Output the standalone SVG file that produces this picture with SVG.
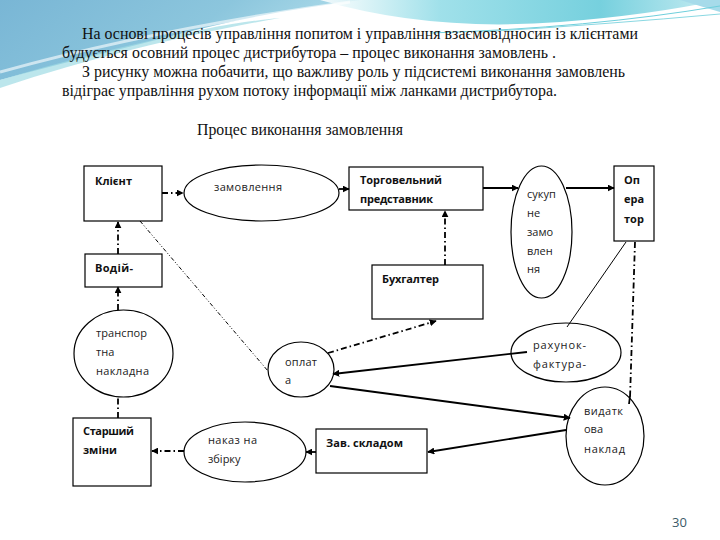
<svg xmlns="http://www.w3.org/2000/svg" width="720" height="540" viewBox="0 0 720 540">
<defs>
<linearGradient id="gBlue" x1="0" y1="0" x2="1" y2="0.3">
<stop offset="0" stop-color="#79b6d5"/>
<stop offset="0.6" stop-color="#8cc6dd"/>
<stop offset="1" stop-color="#b3dfec"/>
</linearGradient>
<linearGradient id="gCyan" x1="0" y1="0" x2="1" y2="0">
<stop offset="0" stop-color="#ffffff"/>
<stop offset="0.3" stop-color="#8fdbe6"/>
<stop offset="0.7" stop-color="#5ec8d8"/>
<stop offset="1" stop-color="#bfe9f0"/>
</linearGradient>
<marker id="ah" viewBox="0 0 10 10" refX="9" refY="5" markerWidth="7" markerHeight="7" markerUnits="userSpaceOnUse" orient="auto">
<path d="M0,0 L10,5 L0,10 Z" fill="#000"/>
</marker>
<style>
.box{fill:#fff;stroke:#000;stroke-width:1.2}
.ell{fill:#fff;stroke:#000;stroke-width:1.2}
.bl{font-family:"Open Sans","Liberation Sans",sans-serif;font-size:11px;font-weight:bold;fill:#111}
.rl{font-family:"Open Sans","Liberation Sans",sans-serif;font-size:11px;fill:#222}
.hd{font-family:"Liberation Serif","Times New Roman",serif;font-size:16px;fill:#111}
.sol{fill:none;stroke:#000;stroke-width:1.8}
.dd{fill:none;stroke:#000;stroke-width:1.8;stroke-dasharray:6 3 1.5 3}
.thin{fill:none;stroke:#000;stroke-width:1}
.thdd{fill:none;stroke:#000;stroke-width:1;stroke-dasharray:4 2 1 2 1 2}
</style>
</defs>
<rect width="720" height="540" fill="#fff"/>
<g id="background">
<path d="M0,0 H360 C 300,8 240,18 180,34 C 110,52 50,66 0,80 Z" fill="url(#gBlue)"/>
<path d="M0,80 C 60,62 130,44 200,30 C 240,22 260,20 280,18 C 200,32 100,55 0,88 Z" fill="#9fdbe4" opacity="0.7"/>
<path d="M320,0 Q 430,32 560,22 Q 650,15 720,0 Z" fill="url(#gCyan)" opacity="0.85"/>
<path d="M680,0 H720 V12 Q 700,6 680,0 Z" fill="#a6dbea"/>
<path d="M430,33 Q 590,28 720,6" fill="none" stroke="#6fcfdc" stroke-width="1"/>
<path d="M480,32 Q 610,24 720,14" fill="none" stroke="#8ad8e2" stroke-width="1"/>
<path d="M0,72 Q 160,28 350,2" fill="none" stroke="#ffffff" stroke-width="3" opacity="0.6"/>
</g>
<g id="header">
<text class="hd" x="82" y="39" textLength="556" lengthAdjust="spacingAndGlyphs">На основі процесів управління попитом і управління взаємовідносин із клієнтами</text>
<text class="hd" x="62" y="58" textLength="494" lengthAdjust="spacingAndGlyphs">будується осовний процес дистрибутора – процес виконання замовлень .</text>
<text class="hd" x="82" y="77" textLength="543" lengthAdjust="spacingAndGlyphs">З рисунку можна побачити, що важливу роль у підсистемі виконання замовлень</text>
<text class="hd" x="62" y="96" textLength="495" lengthAdjust="spacingAndGlyphs">відіграє управління рухом потоку інформації між ланками дистрибутора.</text>
<text class="hd" x="197" y="135" textLength="206" lengthAdjust="spacingAndGlyphs">Процес виконання замовлення</text>
</g>
<g id="n-klient">
<rect class="box" x="84" y="166" width="78" height="55"/>
<text class="bl" x="95" y="185" textLength="37">Клієнт</text>
</g>
<g id="n-zamovlennia">
<ellipse class="ell" cx="261.5" cy="193" rx="77.5" ry="28"/>
<text class="rl" x="214" y="191" textLength="68">замовлення</text>
</g>
<g id="n-torg">
<rect class="box" x="349" y="167" width="134" height="43"/>
<text class="bl" x="360" y="184" textLength="82">Торговельний</text>
<text class="bl" x="360" y="203" textLength="73">представник</text>
</g>
<g id="n-sukupne">
<ellipse class="ell" cx="541.5" cy="232" rx="30.5" ry="66"/>
<text class="rl" x="527" y="198">сукуп</text>
<text class="rl" x="527" y="217">не</text>
<text class="rl" x="527" y="236">замо</text>
<text class="rl" x="527" y="255">влен</text>
<text class="rl" x="527" y="273">ня</text>
</g>
<g id="n-operator">
<rect class="box" x="614" y="166" width="40" height="75"/>
<text class="bl" x="624" y="184">Оп</text>
<text class="bl" x="624" y="203">ера</text>
<text class="bl" x="624" y="223">тор</text>
</g>
<g id="n-buhgalter">
<rect class="box" x="372" y="265" width="111" height="54"/>
<text class="bl" x="382" y="283" textLength="57">Бухгалтер</text>
</g>
<g id="n-vodii">
<rect class="box" x="85" y="254" width="77" height="33"/>
<text class="bl" x="95" y="272" textLength="38">Водій-</text>
</g>
<g id="n-transport">
<ellipse class="ell" cx="123.5" cy="353.5" rx="49.5" ry="43.5"/>
<text class="rl" x="96" y="337" textLength="51">транспор</text>
<text class="rl" x="96" y="356">тна</text>
<text class="rl" x="96" y="375" textLength="53">накладна</text>
</g>
<g id="n-oplata">
<ellipse class="ell" cx="301" cy="369.5" rx="33" ry="27.5"/>
<text class="rl" x="285" y="366" textLength="32">оплат</text>
<text class="rl" x="285" y="384">а</text>
</g>
<g id="n-starshyi">
<rect class="box" x="73" y="418" width="78" height="68"/>
<text class="bl" x="83" y="435" textLength="51">Старший</text>
<text class="bl" x="83" y="454">зміни</text>
</g>
<g id="n-nakaz">
<ellipse class="ell" cx="245" cy="452" rx="61" ry="30"/>
<text class="rl" x="208" y="444" textLength="49">наказ на</text>
<text class="rl" x="208" y="463">збірку</text>
</g>
<g id="n-zav">
<rect class="box" x="316" y="429" width="111" height="44"/>
<text class="bl" x="326" y="447" textLength="77">Зав. складом</text>
</g>
<g id="n-rahunok">
<ellipse class="ell" cx="566" cy="352.5" rx="55" ry="29.5"/>
<text class="rl" x="533" y="349" textLength="53">рахунок-</text>
<text class="rl" x="533" y="368" textLength="53">фактура-</text>
</g>
<g id="n-vydatkova">
<ellipse class="ell" cx="605" cy="436" rx="39" ry="49"/>
<text class="rl" x="584" y="415" textLength="39">видатк</text>
<text class="rl" x="584" y="433">ова</text>
<text class="rl" x="584" y="453" textLength="41">наклад</text>
</g>
<g id="connectors">
<line class="dd" x1="162" y1="193" x2="183" y2="193" marker-end="url(#ah)"/>
<line class="sol" x1="339" y1="189" x2="349" y2="189" marker-end="url(#ah)"/>
<line class="sol" x1="483" y1="188" x2="518" y2="188" marker-end="url(#ah)"/>
<line class="sol" x1="566" y1="188" x2="614" y2="188" marker-end="url(#ah)"/>
<line class="dd" x1="445" y1="265" x2="445" y2="211" marker-end="url(#ah)"/>
<line class="thin" x1="626" y1="242" x2="567" y2="327"/>
<line class="dd" x1="635" y1="242" x2="630" y2="398"/>
<line class="sol" x1="630" y1="396" x2="629" y2="404"/>
<line class="sol" x1="527" y1="352" x2="333" y2="374" marker-end="url(#ah)"/>
<line class="sol" x1="330" y1="386" x2="570" y2="418" marker-end="url(#ah)"/>
<line class="sol" x1="566" y1="430" x2="428" y2="452" marker-end="url(#ah)"/>
<line class="sol" x1="316" y1="452" x2="306" y2="452" marker-end="url(#ah)"/>
<line class="dd" x1="184" y1="451" x2="152" y2="451" marker-end="url(#ah)"/>
<line class="dd" x1="118" y1="418" x2="118" y2="397"/>
<line class="dd" x1="118" y1="310" x2="118" y2="287" marker-end="url(#ah)"/>
<line class="dd" x1="118" y1="254" x2="118" y2="222" marker-end="url(#ah)"/>
<line class="thdd" x1="140" y1="221" x2="268" y2="371"/>
<line class="dd" x1="328" y1="353" x2="436" y2="321" marker-end="url(#ah)"/>
</g>
<text x="672" y="527" font-family="Open Sans, Liberation Sans, sans-serif" font-size="13" fill="#3c5a68">30</text>
</svg>
